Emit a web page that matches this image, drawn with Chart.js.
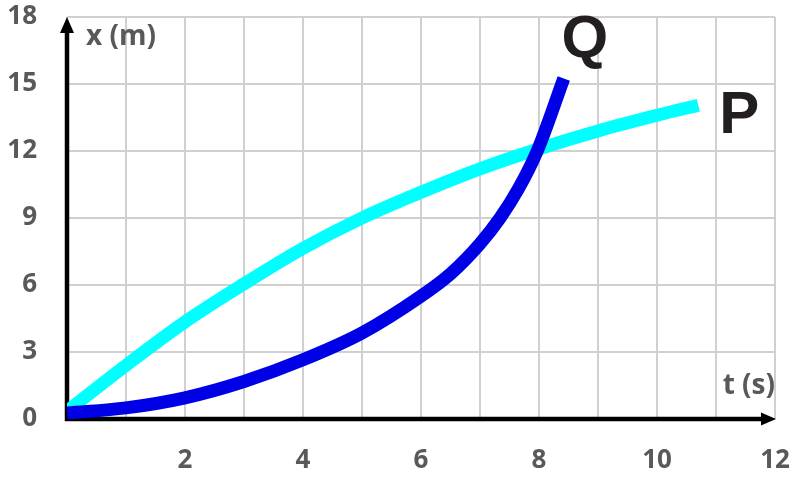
<!DOCTYPE html>
<html lang="en">
<head>
  <meta charset="UTF-8">
  <title>x-t graph P and Q</title>
  <script src="https://cdn.jsdelivr.net/npm/chart.js@4/dist/chart.umd.min.js"></script>
  <style>
    html, body { margin: 0; padding: 0; background: #fff; }
    #wrap { width: 800px; height: 477px; }
  </style>
</head>
<body>
<div id="wrap"><canvas id="xtChart"></canvas></div>

<script>
  // values
  const pTimes = [0, 1, 2, 3, 4, 5, 6, 7, 8, 9, 10, 10.7];
  const pDist  = [0.35, 2.4, 4.35, 6.05, 7.64, 9.0, 10.15, 11.2, 12.1, 12.9, 13.6, 14.05];

  const qTimes = [0, 1, 2, 3, 4, 5, 6, 6.5, 7, 7.34, 7.65, 7.97, 8.42];
  const qDist  = [0.27, 0.5, 0.95, 1.68, 2.65, 3.85, 5.5, 6.5, 7.85, 9, 10.3, 12, 15.25];

  const xTickLabels = [2, 4, 6, 8, 10, 12];

  const toPoints = (ts, xs) => ts.map((t, i) => ({ x: t, y: xs[i] }));

  const tickGrey = '#595959';
  const tickFont = { family: '"Open Sans"', size: 26, weight: 'bold' };

  // axes with arrow heads, axis titles and curve names
  const decorations = {
    id: 'decorations',
    beforeDatasetsDraw(chart) {
      const { ctx, chartArea: a } = chart;
      ctx.save();
      ctx.strokeStyle = '#000';
      ctx.fillStyle = '#000';
      ctx.lineWidth = 4.5;
      ctx.beginPath();
      ctx.moveTo(a.left, a.bottom + 2);
      ctx.lineTo(a.left, a.top + 12);
      ctx.moveTo(a.left - 2, a.bottom);
      ctx.lineTo(a.right - 12, a.bottom);
      ctx.stroke();
      ctx.beginPath();
      ctx.moveTo(a.left, a.top);
      ctx.lineTo(a.left - 7, a.top + 16);
      ctx.lineTo(a.left + 7, a.top + 16);
      ctx.closePath();
      ctx.fill();
      ctx.beginPath();
      ctx.moveTo(a.right + 1, a.bottom);
      ctx.lineTo(a.right - 14, a.bottom - 6.5);
      ctx.lineTo(a.right - 14, a.bottom + 6.5);
      ctx.closePath();
      ctx.fill();
      ctx.restore();
    },
    afterDraw(chart) {
      const { ctx, chartArea: a } = chart;
      ctx.save();
      ctx.fillStyle = tickGrey;
      ctx.font = 'bold 28px "Open Sans"';
      ctx.textBaseline = 'alphabetic';
      ctx.textAlign = 'left';
      ctx.fillText('x (m)', a.left + 19, a.top + 28);
      ctx.textAlign = 'right';
      ctx.fillText('t (s)', a.right, a.bottom - 25);

      // curve names next to each curve's last point
      ctx.fillStyle = '#231F20';
      ctx.font = 'bold 60px "Liberation Sans"';
      ctx.textAlign = 'center';
      ctx.textBaseline = 'middle';
      const names = [['Q', 0, 21, -38], ['P', 1, 41, 11]];
      names.forEach(([txt, idx, dx, dy]) => {
        const pts = chart.getDatasetMeta(idx).data;
        const last = pts[pts.length - 1];
        ctx.fillText(txt, last.x + dx, last.y + dy);
      });
      ctx.restore();
    }
  };

  // fixed axis sizes, no extra padding from the tick labels
  const fixSize = (w, h) => s => {
    if (w !== null) s.width = w;
    if (h !== null) s.height = h;
    s.paddingTop = s.paddingBottom = s.paddingLeft = s.paddingRight = 0;
  };

  new Chart(document.getElementById('xtChart'), {
    type: 'line',
    data: {
      datasets: [
        {
          label: 'Q',
          data: toPoints(qTimes, qDist),
          borderColor: '#0000E6',
          borderWidth: 13,
          order: 0
        },
        {
          label: 'P',
          data: toPoints(pTimes, pDist),
          borderColor: '#00FFFF',
          borderWidth: 13,
          order: 1
        }
      ]
    },
    options: {
      responsive: true,
      maintainAspectRatio: false,
      animation: false,
      elements: { point: { radius: 0 }, line: { cubicInterpolationMode: 'monotone' } },
      layout: { padding: { top: 17, right: 25, left: 0, bottom: 0 } },
      plugins: { legend: { display: false }, tooltip: { enabled: false } },
      scales: {
        x: {
          type: 'linear',
          min: 0,
          max: 12,
          afterFit: fixSize(null, 58),
          border: { display: false },
          grid: { color: '#D0D0D0', lineWidth: 2, drawTicks: false },
          ticks: {
            stepSize: 1,
            autoSkip: false,
            maxRotation: 0,
            padding: 26,
            color: tickGrey,
            font: tickFont,
            callback: v => xTickLabels.includes(v) ? String(v) : ''
          }
        },
        y: {
          min: 0,
          max: 18,
          afterFit: fixSize(67, null),
          border: { display: false },
          grid: { color: '#D0D0D0', lineWidth: 2, drawTicks: false },
          ticks: {
            stepSize: 3,
            padding: 30,
            color: tickGrey,
            font: tickFont
          }
        }
      }
    },
    plugins: [decorations]
  });
</script>
</body>
</html>
